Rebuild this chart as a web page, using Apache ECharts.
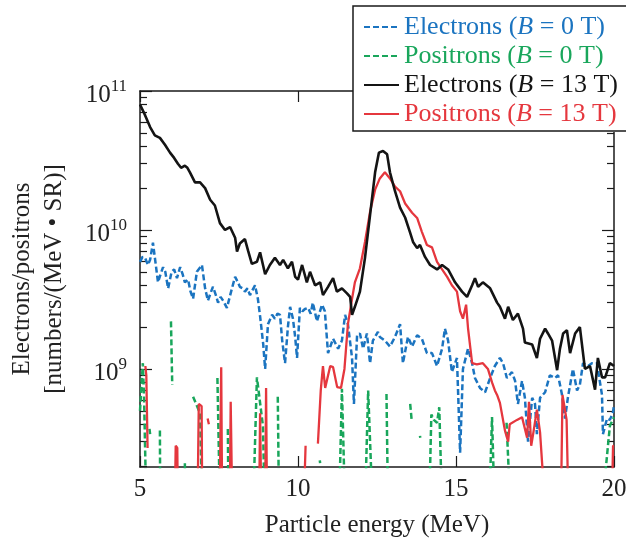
<!DOCTYPE html>
<html>
<head>
<meta charset="utf-8">
<script src="https://cdn.jsdelivr.net/npm/echarts@6/dist/echarts.min.js"></script>
<style>
  html, body { margin: 0; padding: 0; background: #fff; }
  #chart { width: 626px; height: 539px; }
</style>
</head>
<body>
<div id="chart"></div>
<script>
// 1e8 = below the axis floor (line drops out of the frame), null = gap
var elecB0E = [5.00,5.08,5.16,5.25,5.32,5.41,5.50,5.57,5.65,5.73,5.80,5.89,6.00,6.08,6.17,6.27,6.35,6.42,6.52,6.60,6.68,6.80,6.96,7.06,7.15,7.25,7.31,7.40,7.47,7.55,7.63,7.75,7.91,8.01,8.10,8.16,8.25,8.32,8.40,8.48,8.64,8.73,8.80,8.90,8.96,9.05,9.18,9.27,9.35,9.43,9.50,9.59,9.68,9.75,9.84,9.91,9.97,10.06,10.14,10.22,10.32,10.40,10.47,10.60,10.76,10.85,10.95,11.11,11.27,11.39,11.49,11.58,11.71,11.77,11.87,11.96,12.06,12.18,12.28,12.37,12.53,12.59,12.75,12.91,13.07,13.23,13.32,13.48,13.61,13.77,13.92,14.08,14.24,14.40,14.56,14.65,14.75,14.87,15.03,15.13,15.22,15.38,15.51,15.60,15.76,15.92,16.08,16.23,16.39,16.49,16.61,16.77,16.87,16.96,17.09,17.18,17.28,17.41,17.50,17.56,17.66,17.82,17.97,18.13,18.23,18.35,18.45,18.54,18.70,18.83,18.92,19.02,19.18,19.30,19.46,19.62,19.65,19.78,19.87,19.97,20.00];
var elecB0V = [5.9e9,6.4e9,6.3e9,5.6e9,6.1e9,8.1e9,5.6e9,4.2e9,4.8e9,5.4e9,5.0e9,3.8e9,5.0e9,5.2e9,4.5e9,5.4e9,4.8e9,4.2e9,4.4e9,3.6e9,3.2e9,5.0e9,5.6e9,3.8e9,3.1e9,3.6e9,3.9e9,3.4e9,3.0e9,3.3e9,3.1e9,2.75e9,3.8e9,4.6e9,4.2e9,3.9e9,3.8e9,3.6e9,3.8e9,3.4e9,4.0e9,3.2e9,2.4e9,1.5e9,1.0e9,2.1e9,2.45e9,2.3e9,2.5e9,2.45e9,1.6e9,1.1e9,2.0e9,2.8e9,2.3e9,1.7e9,1.2e9,2.75e9,2.6e9,2.7e9,2.75e9,2.5e9,3.0e9,2.2e9,2.9e9,2.6e9,1.3e9,1.65e9,1.4e9,1.6e9,2.45e9,2.1e9,1.2e9,5.6e8,1.75e9,1.8e9,1.4e9,1.8e9,1.1e9,1.6e9,1.85e9,1.7e9,1.6e9,1.45e9,1.7e9,2.1e9,1.1e9,1.7e9,1.45e9,1.75e9,1.65e9,1.3e9,1.3e9,1.05e9,1.4e9,1.95e9,1.6e9,9.5e8,1.2e9,2.5e8,1.0e9,1.4e9,1.1e9,8.6e8,7.3e8,6.8e8,8.6e8,1.05e9,1.2e9,1.1e9,8.6e8,9.5e8,8.2e8,5.6e8,8.2e8,6.2e8,3.0e8,6.2e8,5.6e8,3.4e8,6.2e8,6.8e8,9.0e8,8.6e8,9.0e8,6.6e8,4.4e8,6.2e8,1.0e9,7.0e8,7.7e8,1.1e9,1.05e9,1.1e9,1.1e9,6.5e8,3.4e8,4.4e8,4.3e8,4.9e8,5.5e8];

var posB0E = [5.00,5.09,5.13,5.20,5.25,5.30,5.32,5.45,5.63,5.64,5.80,5.98,6.02,6.20,6.42,6.43,6.55,6.68,6.90,6.97,7.20,7.45,7.53,7.65,7.78,7.80,8.20,8.58,8.70,8.89,8.95,9.20,9.36,9.40,10.00,10.69,10.70,11.00,11.30,11.39,11.49,11.80,12.12,12.22,12.36,12.60,12.80,12.85,13.20,13.55,13.60,13.75,13.86,13.87,14.00,14.15,14.22,14.30,14.40,14.47,14.56,15.30,16.05,16.14,16.22,16.40,16.60,16.72,18.00,19.62,19.87,20.00];
var posB0V = [5.0e8,1.1e9,6.0e8,1e8,null,3.7e8,3.4e8,null,3.6e8,1e8,null,2.2e9,7.7e8,null,2.1e8,1e8,null,6.3e8,4.8e8,1e8,null,8.6e8,1e8,null,3.7e8,1e8,null,1e8,8.7e8,3.9e8,1e8,null,6.3e8,1e8,null,2.2e8,2.1e8,null,1e8,7.2e8,1e8,null,1e8,7.0e8,1e8,null,6.6e8,1e8,null,5.6e8,4.2e8,null,3.3e8,3.2e8,null,1e8,4.7e8,4.3e8,4.1e8,5.3e8,1e8,null,1e8,4.5e8,1e8,null,4.1e8,1e8,null,1e8,3.9e8,4.5e8];

var elecB13E = [5.00,5.16,5.32,5.47,5.63,5.79,5.95,6.08,6.13,6.20,6.30,6.42,6.50,6.58,6.74,6.90,7.06,7.22,7.37,7.53,7.69,7.85,8.01,8.07,8.16,8.32,8.42,8.54,8.70,8.80,8.96,9.11,9.27,9.43,9.53,9.68,9.81,9.91,10.00,10.13,10.28,10.38,10.54,10.70,10.79,10.95,11.11,11.23,11.39,11.55,11.65,11.71,11.80,11.96,12.12,12.28,12.44,12.56,12.69,12.82,12.91,13.07,13.23,13.39,13.54,13.64,13.77,13.86,14.02,14.18,14.40,14.56,14.75,14.97,15.19,15.35,15.51,15.60,15.70,15.85,16.08,16.30,16.39,16.55,16.65,16.80,16.96,17.12,17.18,17.41,17.56,17.66,17.82,17.91,18.04,18.20,18.29,18.39,18.51,18.61,18.77,18.92,19.08,19.24,19.40,19.49,19.62,19.72,19.87,20.00];
var elecB13V = [8.0e10,6.7e10,5.5e10,4.8e10,4.6e10,4.1e10,3.6e10,3.3e10,3.4e10,3.0e10,2.8e10,2.9e10,2.8e10,2.6e10,2.2e10,2.2e10,2.0e10,1.65e10,1.5e10,1.12e10,1.0e10,1.05e10,8.8e9,7.0e9,8.0e9,8.6e9,7.1e9,5.7e9,5.9e9,6.9e9,4.8e9,5.6e9,6.3e9,5.6e9,6.1e9,5.3e9,5.9e9,4.6e9,4.4e9,5.6e9,4.2e9,5.0e9,4.0e9,4.2e9,3.4e9,3.9e9,4.5e9,3.6e9,3.8e9,3.5e9,3.3e9,2.45e9,2.8e9,3.6e9,6.3e9,1.28e10,2.6e10,3.6e10,3.7e10,3.5e10,2.6e10,1.9e10,1.45e10,1.23e10,9.7e9,8.2e9,7.4e9,7.8e9,6.4e9,5.6e9,5.2e9,5.6e9,5.2e9,4.2e9,3.6e9,3.3e9,4.0e9,4.5e9,3.9e9,4.2e9,3.8e9,3.0e9,2.8e9,2.3e9,2.8e9,2.25e9,2.5e9,1.95e9,1.55e9,1.5e9,1.2e9,1.65e9,1.95e9,1.8e9,1.6e9,9.8e8,1.4e9,1.8e9,1.9e9,1.3e9,1.8e9,2.0e9,1.0e9,1.05e9,7.1e8,1.2e9,8.7e8,8.7e8,1.1e9,1.05e9];

var posB13E = [5.17,5.20,5.24,5.60,6.10,6.13,6.18,6.20,6.50,6.82,6.86,6.95,6.97,7.05,7.14,7.18,7.35,7.52,7.57,7.60,7.70,7.84,7.87,7.92,8.30,8.77,8.80,8.84,8.96,8.99,9.02,9.60,10.18,10.24,10.40,10.63,10.72,10.79,10.86,10.92,11.02,11.11,11.24,11.36,11.47,11.58,11.71,11.80,11.96,12.12,12.28,12.44,12.59,12.75,12.91,13.07,13.23,13.39,13.61,13.77,13.92,14.08,14.24,14.40,14.56,14.72,14.87,15.03,15.13,15.22,15.32,15.38,15.51,15.66,15.85,16.01,16.14,16.23,16.30,16.39,16.55,16.65,16.70,16.93,17.09,17.25,17.31,17.38,17.45,17.56,17.66,17.82,18.00,18.32,18.37,18.50,18.56,19.20,19.93,19.97,20.00];
var posB13V = [1.05e9,9.0e8,2.7e8,null,1e8,2.8e8,2.7e8,1e8,null,1e8,5.6e8,5.4e8,1e8,null,4.4e8,4.0e8,null,1e8,1.03e9,1e8,null,1e8,5.8e8,1e8,null,1e8,4.8e8,1e8,1e8,7.3e8,1e8,null,1e8,2.8e8,null,2.9e8,7.0e8,1.05e9,7.3e8,7.2e8,1.05e9,1.03e9,7.4e8,7.3e8,1.0e9,2.1e9,3.2e9,4.2e9,5.3e9,8.2e9,1.35e10,1.95e10,2.35e10,2.6e10,2.35e10,2.05e10,1.9e10,1.55e10,1.33e10,1.22e10,9.7e9,7.8e9,7.5e9,5.9e9,5.2e9,4.6e9,4.0e9,3.6e9,2.6e9,2.3e9,2.9e9,1.97e9,1.1e9,1.08e9,1.1e9,1.0e9,8.0e8,7.0e8,6.5e8,5.7e8,3.6e8,3.0e8,4.0e8,4.3e8,4.5e8,3.2e8,5.8e8,2.8e8,3.5e8,5.1e8,3.5e8,1e8,null,1e8,6.5e8,4.3e8,1e8,null,1e8,2.8e8,2.8e8];

var seriesNames = ['Electrons (B = 0 T)', 'Positrons (B = 0 T)', 'Electrons (B = 13 T)', 'Positrons (B = 13 T)'];
var seriesColors = ['#1b74c0', '#19a65b', '#141414', '#e5373e'];

var majorTicks = [1e9, 1e10, 1e11];
var xTicks = [5, 10, 15, 20];

var yMin = 1.97e8, yMax = 1e11;
var serif = 'Liberation Serif';

// minor ticks 2..9 x 10^n inside the range
var minorTicks = [];
for (var p = 8; p <= 10; p++) {
  for (var m = 2; m <= 9; m++) {
    var t = m * Math.pow(10, p);
    if (t >= yMin && t <= yMax) minorTicks.push(t);
  }
}

function pairs(xs, ys) {
  return xs.map(function (x, i) {
    return ys[i] == null ? [x, '-'] : [x, ys[i]];
  });
}

var chart = echarts.init(document.getElementById('chart'));

var lineCol = '#1a1a1a';
function yAxisDef(pos, ticks, len, withLine) {
  return {
    type: 'log', logBase: 10, position: pos, min: yMin, max: yMax,
    axisLine: { show: withLine, lineStyle: { color: lineCol, width: 1.5 } },
    axisTick: { show: true, inside: true, length: len, customValues: ticks,
      lineStyle: { color: lineCol, width: 1.2 } },
    axisLabel: { show: false },
    splitLine: { show: false }
  };
}

var yLeft = yAxisDef('left', majorTicks, 12, true);
yLeft.axisLabel = {
  show: true, customValues: majorTicks, margin: 13,
  formatter: function (v) {
    return '{b|10}{s|' + Math.round(Math.log10(v)) + '}';
  },
  rich: {
    b: { fontFamily: serif, fontSize: 25, color: '#222', lineHeight: 26, padding: [8, 0, 0, 0] },
    s: { fontFamily: serif, fontSize: 17, color: '#222', verticalAlign: 'top', lineHeight: 18, padding: [0, 0, 10, 0] }
  }
};
yLeft.name = 'Electrons/positrons\n[numbers/(MeV • SR)]';
yLeft.nameLocation = 'middle';
yLeft.nameGap = 70;
yLeft.nameTextStyle = { fontFamily: serif, fontSize: 25, lineHeight: 32, color: '#222' };

var option = {
  animation: false,
  backgroundColor: '#fff',
  grid: { left: 140, right: 12, top: 91, bottom: 72, containLabel: false, outerBoundsMode: 'none' },
  legend: {
    orient: 'vertical', left: 353, top: 6,
    padding: [8, 40, 5, 10], itemGap: 3, itemWidth: 35, itemHeight: 14,
    backgroundColor: '#fff', borderWidth: 0, borderRadius: 0,
    itemStyle: { opacity: 0 },
    textStyle: { fontFamily: serif, fontSize: 26, lineHeight: 25,
      rich: { i: { fontFamily: serif, fontSize: 26, fontStyle: 'italic' } } },
    formatter: function (n) { return n.replace('(B', '({i|B}'); },
    data: seriesNames.map(function (n, i) {
      return { name: n, textStyle: { color: seriesColors[i] } };
    })
  },
  // legend frame: open on the right, it runs past the canvas edge
  graphic: [{
    type: 'polyline', z: 200, silent: true,
    shape: { points: [[630, 6], [353, 6], [353, 131], [630, 131]] },
    style: { fill: null, stroke: lineCol, lineWidth: 1.5 }
  }],
  xAxis: [{
    type: 'value', min: 5, max: 20, interval: 5, position: 'bottom',
    axisLine: { lineStyle: { color: lineCol, width: 1.5 } },
    axisTick: { inside: true, length: 11, customValues: xTicks, lineStyle: { color: lineCol, width: 1.2 } },
    axisLabel: { customValues: xTicks, fontFamily: serif, fontSize: 25, color: '#222', margin: 10 },
    splitLine: { show: false },
    name: 'Particle energy (MeV)', nameLocation: 'middle', nameGap: 46,
    nameTextStyle: { fontFamily: serif, fontSize: 25, color: '#222' }
  }, {
    type: 'value', min: 5, max: 20, interval: 5, position: 'top',
    axisLine: { lineStyle: { color: lineCol, width: 1.5 } },
    axisTick: { inside: true, length: 11, customValues: xTicks, lineStyle: { color: lineCol, width: 1.2 } },
    axisLabel: { show: false },
    splitLine: { show: false }
  }],
  yAxis: [
    yLeft,
    yAxisDef('left', minorTicks, 7, false),
    yAxisDef('right', majorTicks, 12, true),
    yAxisDef('right', minorTicks, 7, false)
  ],
  series: [
    { name: seriesNames[0], data: pairs(elecB0E, elecB0V), color: seriesColors[0],
      lineStyle: { width: 2.5, type: [6, 3] } },
    { name: seriesNames[1], data: pairs(posB0E, posB0V), color: seriesColors[1],
      lineStyle: { width: 2.5, type: [6, 3] } },
    { name: seriesNames[3], data: pairs(posB13E, posB13V), color: seriesColors[3],
      lineStyle: { width: 2.3 } },
    { name: seriesNames[2], data: pairs(elecB13E, elecB13V), color: seriesColors[2],
      lineStyle: { width: 2.6 } }
  ].map(function (s) {
    s.type = 'line';
    s.symbol = 'none';
    s.showSymbol = false;
    s.connectNulls = false;
    s.clip = true;
    return s;
  })
};

chart.setOption(option);
</script>
</body>
</html>
